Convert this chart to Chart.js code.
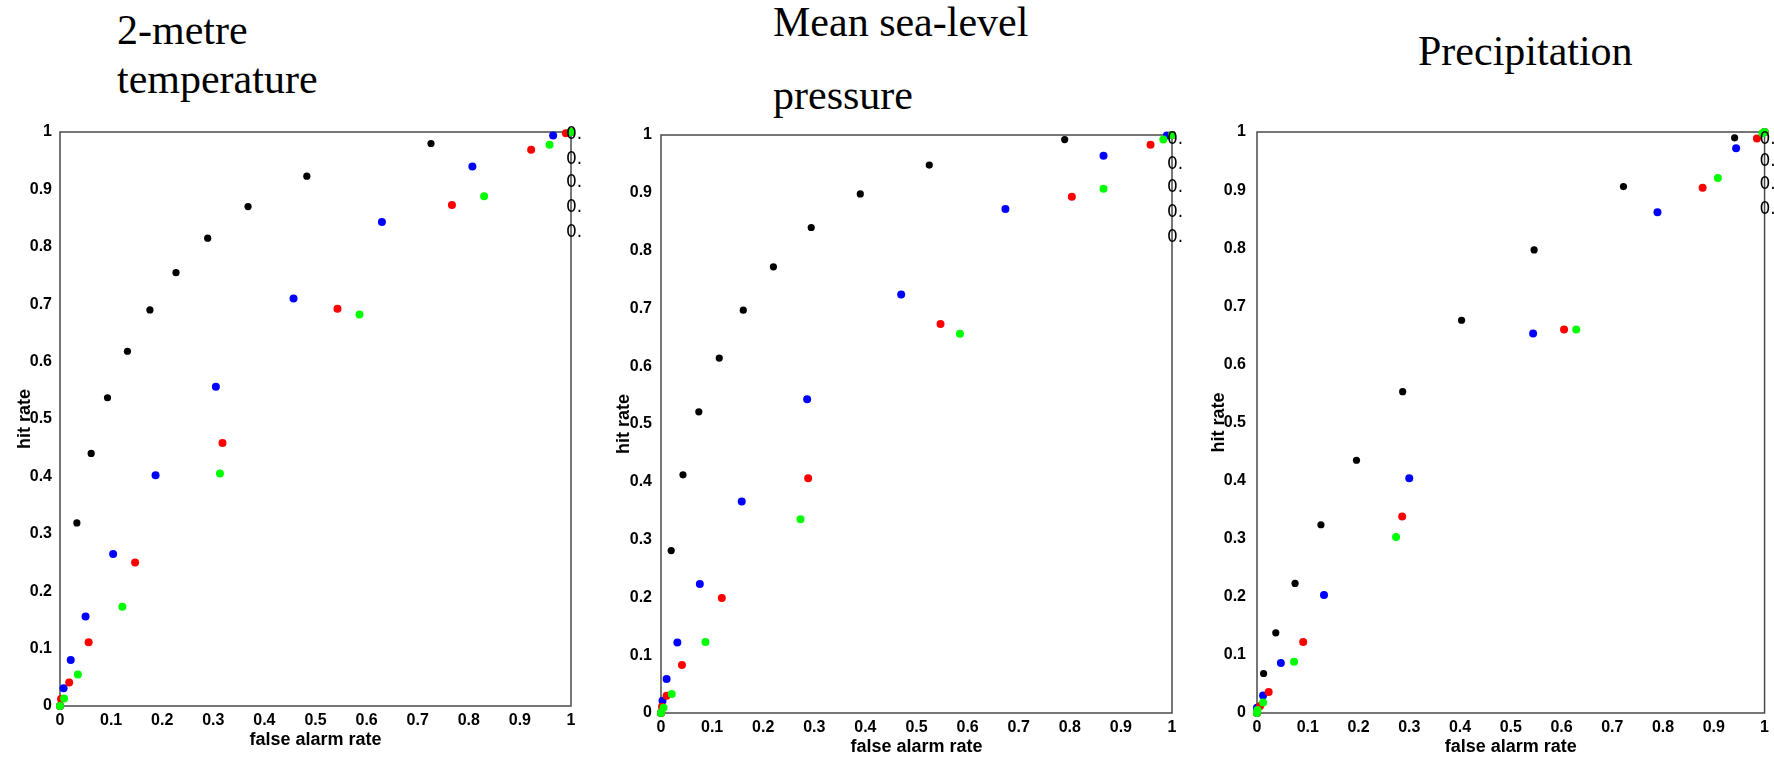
<!DOCTYPE html>
<html>
<head>
<meta charset="utf-8">
<script src="https://cdn.jsdelivr.net/npm/chart.js@4.4.1/dist/chart.umd.min.js"></script>
<style>
  html, body { margin: 0; padding: 0; background: #fff; }
  body { width: 1774px; height: 759px; position: relative; overflow: hidden; }
  canvas { position: absolute; top: 0; }
  .title { position: absolute; font-family: "Liberation Serif", "Times New Roman", serif; font-size: 42px; line-height: 1; color: #000; white-space: nowrap; }
</style>
</head>
<body>
<div class="title" style="left:117px; top:9px">2-metre</div>
<div class="title" style="left:117px; top:58px">temperature</div>
<div class="title" style="left:773px; top:1px">Mean sea-level</div>
<div class="title" style="left:773px; top:74px">pressure</div>
<div class="title" style="left:1418px; top:30px">Precipitation</div>

<canvas id="t2m" width="600" height="759" style="left:0px"></canvas>
<canvas id="mslp" width="600" height="759" style="left:600px"></canvas>
<canvas id="precip" width="584" height="759" style="left:1190px"></canvas>

<script>
// axis ticks
const tickValues = [0, 0.1, 0.2, 0.3, 0.4, 0.5, 0.6, 0.7, 0.8, 0.9, 1];
const tickLabels = ['0', '0.1', '0.2', '0.3', '0.4', '0.5', '0.6', '0.7', '0.8', '0.9', '1'];

// [false alarm rate, hit rate] pairs
// 2-metre temperature
const t2mBlack = [[0,0],[.033,.319],[.061,.440],[.093,.537],[.132,.618],[.176,.690],[.227,.755],[.289,.815],[.368,.870],[.483,.923],[.726,.980],[1,1]];
const t2mBlue  = [[0,0],[.007,.031],[.021,.080],[.050,.156],[.104,.265],[.187,.402],[.305,.556],[.457,.710],[.630,.843],[.807,.940],[.965,.994],[1,1]];
const t2mRed   = [[0,0],[.002,.012],[.018,.041],[.056,.111],[.147,.250],[.318,.458],[.543,.692],[.767,.873],[.922,.969],[.990,.998],[1,1]];
const t2mGreen = [[0,0],[.008,.013],[.035,.055],[.122,.173],[.313,.405],[.586,.682],[.830,.888],[.958,.978],[1,1]];

// mean sea-level pressure
const mslpBlack = [[0,0],[.020,.281],[.043,.412],[.074,.521],[.114,.614],[.161,.697],[.220,.772],[.294,.840],[.390,.898],[.525,.948],[.790,.992],[1,1]];
const mslpBlue  = [[0,0],[.003,.021],[.011,.059],[.032,.122],[.076,.223],[.158,.366],[.286,.543],[.470,.724],[.674,.872],[.866,.964],[.990,.999],[1,1]];
const mslpRed   = [[0,0],[.002,.011],[.011,.030],[.041,.083],[.119,.199],[.288,.406],[.547,.673],[.804,.893],[.958,.983],[1,1]];
const mslpGreen = [[0,0],[.005,.009],[.021,.033],[.087,.123],[.273,.335],[.585,.656],[.866,.907],[.983,.992],[1,1]];

// precipitation
const precipBlack = [[0,0],[.013,.068],[.037,.138],[.075,.223],[.126,.324],[.196,.435],[.287,.553],[.403,.676],[.546,.797],[.722,.906],[.941,.990],[1,1]];
const precipBlue  = [[0,0],[0,.009],[.012,.030],[.047,.086],[.132,.203],[.300,.404],[.544,.653],[.789,.862],[.944,.972],[1,1]];
const precipRed   = [[0,0],[.006,.012],[.023,.036],[.091,.122],[.286,.338],[.605,.660],[.878,.904],[.985,.989],[1,1]];
const precipGreen = [[0,0],[.001,.005],[.012,.018],[.073,.088],[.274,.303],[.629,.660],[.908,.921],[.996,.998],[1,1]];

const pts = arr => arr.map(([x, y]) => ({ x, y }));

// box round the plot area
const framePlugin = {
    id: 'frame',
    beforeDatasetsDraw(chart) {
        const { ctx, chartArea: a } = chart;
        ctx.save();
        ctx.strokeStyle = '#4a4a4a';
        ctx.lineWidth = 1.5;
        ctx.strokeRect(a.left, a.top, a.right - a.left, a.bottom - a.top);
        ctx.restore();
    }
};

// the clipped "0." labels sitting on the right edge
const stubPlugin = {
    id: 'stubs',
    afterDraw(chart, args, opts) {
        const { ctx, chartArea: a } = chart;
        ctx.save();
        ctx.font = '17px "DejaVu Sans", "Liberation Sans", sans-serif';
        ctx.fillStyle = '#000';
        ctx.textAlign = 'left';
        ctx.textBaseline = 'middle';
        (opts.offsets || []).forEach(dy => ctx.fillText('0.', a.right - 5, a.top + dy));
        ctx.restore();
    }
};

const tickFont = { family: '"Liberation Sans", Arial, sans-serif', size: 16, weight: 'bold' };
const titleFont = { family: '"Liberation Sans", Arial, sans-serif', size: 18, weight: 'bold' };

function makePanel(id, black, blue, red, green, p) {
    const dot = (data, color, r) => ({
        data: pts(data), backgroundColor: color, borderWidth: 0,
        pointRadius: r, pointHoverRadius: r, showLine: false, clip: false
    });
    new Chart(document.getElementById(id), {
        type: 'scatter',
        data: {
            // first dataset is drawn on top
            datasets: [dot(green, '#00ff00', 4), dot(red, '#ff0000', 4), dot(blue, '#0000ff', 4), dot(black, '#000000', 3.6)]
        },
        options: {
            responsive: false,
            animation: false,
            layout: { padding: { top: p.top, right: p.right, bottom: p.bottom, left: 0 } },
            plugins: { legend: { display: false }, tooltip: { enabled: false }, stubs: { offsets: p.stubs } },
            scales: {
                x: {
                    type: 'linear', min: 0, max: 1,
                    afterBuildTicks: s => { s.ticks = tickValues.map(v => ({ value: v })); },
                    afterFit: s => { s.height = 45; },
                    grid: { display: false, drawTicks: false, tickLength: 0 },
                    border: { display: false },
                    ticks: { color: '#000', font: tickFont, padding: 5, maxRotation: 0, autoSkip: false,
                             callback: (v, i) => tickLabels[i] },
                    title: { display: true, text: 'false alarm rate', color: '#000', font: titleFont, padding: 0 }
                },
                y: {
                    type: 'linear', min: 0, max: 1,
                    afterBuildTicks: s => { s.ticks = tickValues.map(v => ({ value: v })); },
                    afterFit: s => { s.width = p.yWidth; },
                    grid: { display: false, drawTicks: false, tickLength: 0 },
                    border: { display: false },
                    ticks: { color: '#000', font: tickFont, padding: p.tickPad, autoSkip: false,
                             callback: (v, i) => tickLabels[i] },
                    title: { display: true, text: 'hit rate', color: '#000', font: titleFont, padding: { top: p.titlePad, bottom: 0 } }
                }
            }
        },
        plugins: [framePlugin, stubPlugin]
    });
}

makePanel('t2m', t2mBlack, t2mBlue, t2mRed, t2mGreen,
    { top: 132, right: 29, bottom: 8, yWidth: 60, tickPad: 8, titlePad: 14, stubs: [3, 28, 51, 76, 101] });
makePanel('mslp', mslpBlack, mslpBlue, mslpRed, mslpGreen,
    { top: 135, right: 28, bottom: 1, yWidth: 61, tickPad: 9, titlePad: 13, stubs: [5, 30, 53, 78, 103] });
makePanel('precip', precipBlack, precipBlue, precipRed, precipGreen,
    { top: 132, right: 8, bottom: 1, yWidth: 67, tickPad: 11, titlePad: 18, stubs: [8, 30, 53, 78] });
</script>
</body>
</html>
